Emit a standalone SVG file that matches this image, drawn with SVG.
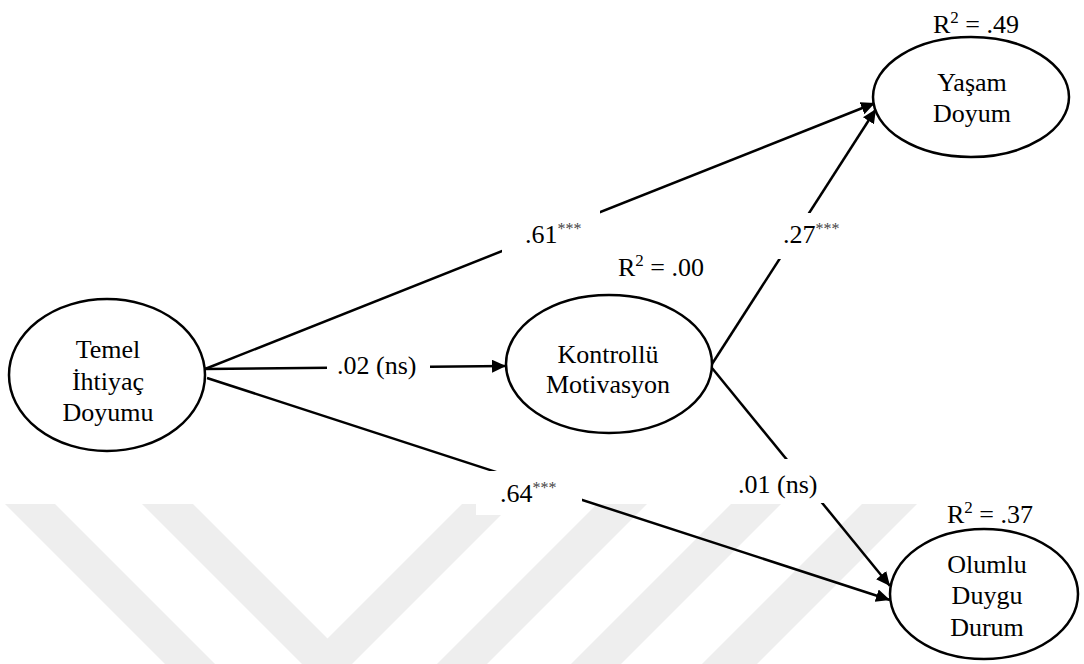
<svg xmlns="http://www.w3.org/2000/svg" width="1084" height="664" viewBox="0 0 1084 664">
  <style>
    .bg { fill: #ffffff; }
    .mark { fill: #eeeeee; }
    .node { fill: #ffffff; stroke: #000000; stroke-width: 2.5; }
    .edge { fill: none; stroke: #000000; stroke-width: 2.5; marker-end: url(#arrow); }
    .lblbox { fill: #ffffff; stroke: none; }
    text { font-size: 26px; fill: #000000; }
    .c { text-anchor: middle; }
    .sup { font-size: 17px; }
    .star { font-size: 16px; fill: #444444; }
  </style>
  <defs>
    <marker id="arrow" markerUnits="userSpaceOnUse" markerWidth="15" markerHeight="14" refX="14" refY="6.5" orient="auto">
      <path d="M0,0 L14,6.5 L0,13 Z" fill="#000000"/>
    </marker>
  </defs>

  <rect class="bg" x="0" y="0" width="1084" height="664"/>

  <!-- faint diagonal background bands -->
  <g id="background-bands">
    <polygon class="mark" points="5,504 55,504 215,664 165,664"/>
    <polygon class="mark" points="142,504 193,504 327.5,638.5 462,504 512,504 352,664 302,664"/>
    <polygon class="mark" points="597,504 647,504 487,664 437,664"/>
    <polygon class="mark" points="731,504 781,504 621,664 571,664"/>
    <polygon class="mark" points="862,504 917,504 757,664 702,664"/>
  </g>

  <!-- paths between the constructs -->
  <g id="connectors">
    <line class="edge" x1="205" y1="369" x2="875" y2="103"/>
    <line class="edge" x1="205" y1="369" x2="506" y2="366"/>
    <line class="edge" x1="207" y1="378" x2="890" y2="600"/>
    <line class="edge" x1="712" y1="364" x2="876" y2="109"/>
    <line class="edge" x1="712" y1="368" x2="890" y2="586"/>
  </g>

  <g font-family="'Liberation Serif', 'DejaVu Serif', 'Noto Serif', serif">
  <!-- path coefficients -->
  <g id="coefficients">
    <rect class="lblbox" x="502" y="207" width="98" height="46"/>
    <text x="525" y="243">.61<tspan class="star" dy="-9">***</tspan></text>

    <rect class="lblbox" x="327" y="350" width="103" height="32"/>
    <text x="337" y="374">.02 (ns)</text>

    <rect class="lblbox" x="476" y="471" width="106" height="44"/>
    <text x="500" y="502">.64<tspan class="star" dy="-9">***</tspan></text>

    <rect class="lblbox" x="771" y="213" width="76" height="46"/>
    <text x="783" y="243">.27<tspan class="star" dy="-9">***</tspan></text>

    <rect class="lblbox" x="733" y="459" width="93" height="44"/>
    <text x="738" y="493">.01 (ns)</text>
  </g>

  <g id="node-temel">
    <ellipse class="node" cx="107" cy="375" rx="98" ry="76"/>
    <text class="c" x="108" y="358">Temel</text>
    <text class="c" x="108" y="390">İhtiyaç</text>
    <text class="c" x="108" y="421">Doyumu</text>
  </g>

  <g id="node-kontrollu">
    <ellipse class="node" cx="609" cy="364" rx="103" ry="69"/>
    <text class="c" x="608" y="363">Kontrollü</text>
    <text class="c" x="608" y="393">Motivasyon</text>
    <text x="618" y="276">R<tspan class="sup" dy="-10">2</tspan><tspan dy="10"> = .00</tspan></text>
  </g>

  <g id="node-yasam">
    <ellipse class="node" cx="971" cy="97" rx="98" ry="60"/>
    <text class="c" x="972" y="91">Yaşam</text>
    <text class="c" x="972" y="122">Doyum</text>
    <text x="933" y="33">R<tspan class="sup" dy="-10">2</tspan><tspan dy="10"> = .49</tspan></text>
  </g>

  <g id="node-olumlu">
    <ellipse class="node" cx="984" cy="594" rx="94" ry="65"/>
    <text class="c" x="987" y="573">Olumlu</text>
    <text class="c" x="987" y="604">Duygu</text>
    <text class="c" x="987" y="636">Durum</text>
    <text x="947" y="523">R<tspan class="sup" dy="-10">2</tspan><tspan dy="10"> = .37</tspan></text>
  </g>
  </g>
</svg>
